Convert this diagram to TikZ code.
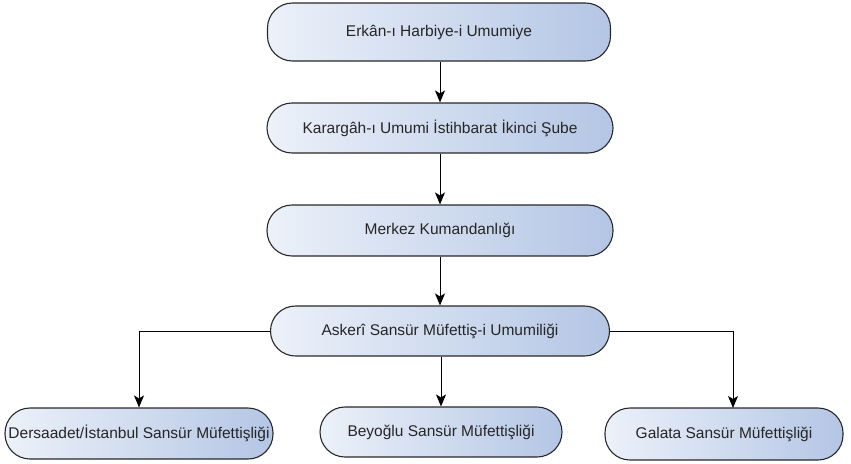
\documentclass[tikz,border=0pt]{standalone}
\usepackage{fontspec}
\setmainfont{Liberation Sans}
\usetikzlibrary{arrows.meta}
\definecolor{boxL}{RGB}{236,241,249}
\definecolor{boxR}{RGB}{180,198,229}
\definecolor{edge}{RGB}{40,40,40}
\tikzset{
  orgbox/.style={draw=edge, line width=1.1pt, rounded corners=25pt,
    left color=boxL, right color=boxR, inner sep=0pt,
    font=\fontsize{15.5}{18}\selectfont, text=black!85},
  arr/.style={draw=black, line width=1pt,
    -{Stealth[length=12pt,width=10pt,inset=3pt]}}
}
\begin{document}
\begin{tikzpicture}[x=1pt,y=-1pt]
\useasboundingbox (0,0) rectangle (851,463);
\node[orgbox, minimum width=343pt, minimum height=58pt] (b1) at (439,32) {Erkân-ı Harbiye-i Umumiye};
\node[orgbox, minimum width=346pt, minimum height=50pt] (b2) at (440,128) {Karargâh-ı Umumi İstihbarat İkinci Şube};
\node[orgbox, minimum width=346pt, minimum height=51pt] (b3) at (440,230.5) {Merkez Kumandanlığı};
\node[orgbox, minimum width=339pt, minimum height=50pt] (b4) at (440,331) {Askerî Sansür Müfettiş-i Umumiliği};
\node[orgbox, minimum width=268pt, minimum height=51pt] (b5) at (139,433.5) {Dersaadet/İstanbul Sansür Müfettişliği};
\node[orgbox, minimum width=242pt, minimum height=50pt] (b6) at (441,432) {Beyoğlu Sansür Müfettişliği};
\node[orgbox, minimum width=238pt, minimum height=52pt] (b7) at (724,434) {Galata Sansür Müfettişliği};
\coordinate (r7) at (733,408);
\draw[arr] (b1.south -| b2.north) -- (b2.north);
\draw[arr] (b2.south) -- (b3.north);
\draw[arr] (b3.south) -- (b4.north);
\draw[arr] (b4.south -| b6.north) -- (b6.north);
\draw[arr] (b4.west) -| (b5.north);
\draw[arr] (b4.east) -| (r7);
\end{tikzpicture}
\end{document}
